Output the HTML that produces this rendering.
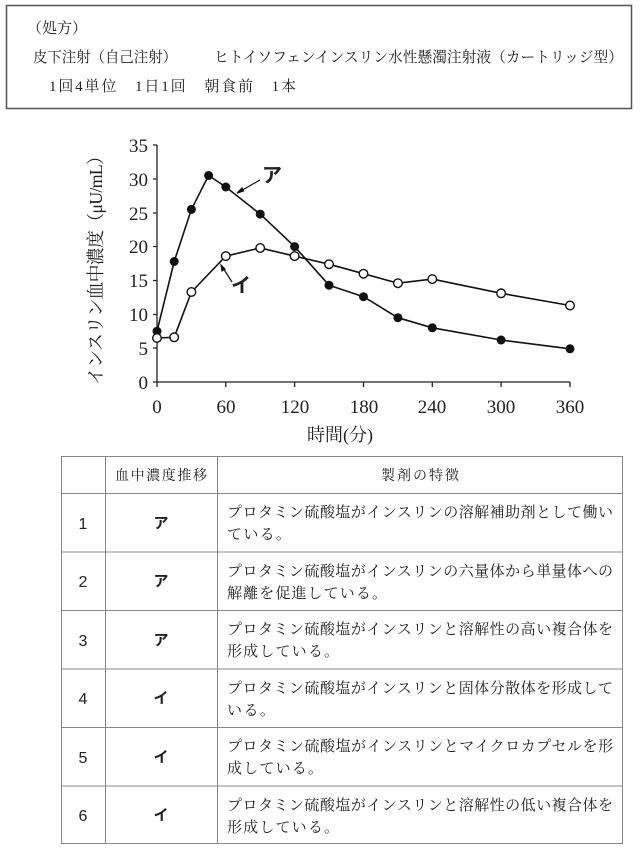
<!DOCTYPE html>
<html><head><meta charset="utf-8"><style>
body{margin:0;background:#fff;width:642px;height:850px;overflow:hidden}
svg{display:block}
text{font-family:"Liberation Serif","Noto Serif CJK SC","Noto Sans CJK JP",serif;fill:#222}
text.s,.s text{font-family:"Liberation Sans","Noto Sans CJK JP",sans-serif}
</style></head><body>
<svg width="642" height="850" viewBox="0 0 642 850">
<rect x="6.5" y="5.5" width="625" height="103" fill="none" stroke="#555" stroke-width="1.5"/>
<text x="27" y="33" font-size="15">（処方）</text>
<text x="33" y="62" font-size="15" textLength="144" lengthAdjust="spacingAndGlyphs">皮下注射（自己注射）</text>
<text x="214" y="62" font-size="15" textLength="409" lengthAdjust="spacingAndGlyphs">ヒトイソフェンインスリン水性懸濁注射液（カートリッジ型）</text>
<text x="49" y="91" font-size="15" textLength="247">1回4単位　1日1回　朝食前　1本</text>

<g stroke="#222" stroke-width="1.3" fill="none">
<line x1="157" y1="145" x2="157" y2="382"/>
<line x1="157" y1="382" x2="570" y2="382"/>
<path d="M153 145H157M153 179H157M153 213H157M153 246.5H157M153 280.5H157M153 314.5H157M153 348H157M153 382H157"/>
<path d="M157 382V387M225.8 382V387M294.6 382V387M363.5 382V387M432.3 382V387M501.1 382V387M570 382V387"/>
</g>
<g font-size="19" text-anchor="end">
<text x="148" y="152">35</text><text x="148" y="186">30</text><text x="148" y="220">25</text><text x="148" y="253">20</text><text x="148" y="287">15</text><text x="148" y="321">10</text><text x="148" y="355">5</text><text x="148" y="389">0</text>
</g>
<g font-size="19" text-anchor="middle">
<text x="157" y="413">0</text><text x="226" y="413">60</text><text x="295" y="413">120</text><text x="364" y="413">180</text><text x="432" y="413">240</text><text x="501" y="413">300</text><text x="570" y="413">360</text>
</g>
<text x="340" y="441" font-size="18" text-anchor="middle">時間(分)</text>
<text transform="translate(102,266) rotate(-90)" font-size="18" text-anchor="middle" textLength="238">インスリン血中濃度（μU/mL）</text>

<polyline fill="none" stroke="#111" stroke-width="1.6" points="157,331.2 174.2,261.5 191.4,209.4 208.6,175.5 225.8,187 260.2,214.1 294.6,246.6 329,285.2 363.5,296.7 397.9,317.7 432.3,327.8 501.1,340 570,348.8"/>
<polyline fill="none" stroke="#111" stroke-width="1.6" points="157,338 174.2,337.3 191.4,292 225.8,256.1 260.2,248 294.6,256.1 329,264.2 363.5,273.7 397.9,283.2 432.3,279.1 501.1,293.3 570,305.5"/>
<g fill="#111">
<circle cx="157" cy="331.2" r="4.5"/><circle cx="174.2" cy="261.5" r="4.5"/><circle cx="191.4" cy="209.4" r="4.5"/><circle cx="208.6" cy="175.5" r="4.5"/><circle cx="225.8" cy="187" r="4.5"/><circle cx="260.2" cy="214.1" r="4.5"/><circle cx="294.6" cy="246.6" r="4.5"/><circle cx="329" cy="285.2" r="4.5"/><circle cx="363.5" cy="296.7" r="4.5"/><circle cx="397.9" cy="317.7" r="4.5"/><circle cx="432.3" cy="327.8" r="4.5"/><circle cx="501.1" cy="340" r="4.5"/><circle cx="570" cy="348.8" r="4.5"/>
</g>
<g fill="#fff" stroke="#111" stroke-width="1.4">
<circle cx="157" cy="338" r="4.3"/><circle cx="174.2" cy="337.3" r="4.3"/><circle cx="191.4" cy="292" r="4.3"/><circle cx="225.8" cy="256.1" r="4.3"/><circle cx="260.2" cy="248" r="4.3"/><circle cx="294.6" cy="256.1" r="4.3"/><circle cx="329" cy="264.2" r="4.3"/><circle cx="363.5" cy="273.7" r="4.3"/><circle cx="397.9" cy="283.2" r="4.3"/><circle cx="432.3" cy="279.1" r="4.3"/><circle cx="501.1" cy="293.3" r="4.3"/><circle cx="570" cy="305.5" r="4.3"/>
</g>
<g stroke="#111" stroke-width="1.2" fill="#111">
<line x1="260" y1="180" x2="239" y2="192"/><path d="M237 193l5-5 1.5 3z"/>
<line x1="232" y1="282" x2="223" y2="268"/><path d="M221 265l1 6 3-2z"/>
</g>
<text x="262" y="182" font-size="20" class="s" font-weight="bold">ア</text>
<text x="231" y="292" font-size="20" class="s" font-weight="bold">イ</text>

<g stroke="#888" stroke-width="1" fill="none">
<rect x="61.5" y="456.5" width="561" height="387"/>
<line x1="105.5" y1="456" x2="105.5" y2="844"/>
<line x1="217.5" y1="456" x2="217.5" y2="844"/>
<path d="M61 493.5H622M61 552H622M61 610.5H622M61 669H622M61 727.5H622M61 786H622"/>
</g>
<g font-size="14">
<text x="161" y="480" text-anchor="middle" textLength="92">血中濃度推移</text>
<text x="420" y="480" text-anchor="middle" textLength="78">製剤の特徴</text>
</g>
<g font-size="16" text-anchor="middle" class="s">
<text x="83" y="529">1</text><text x="83" y="587">2</text><text x="83" y="646">3</text><text x="83" y="704">4</text><text x="83" y="763">5</text><text x="83" y="821">6</text>
</g>
<g font-size="15" text-anchor="middle" class="s" font-weight="bold">
<text x="161" y="528">ア</text><text x="161" y="586">ア</text><text x="161" y="645">ア</text><text x="161" y="703">イ</text><text x="161" y="762">イ</text><text x="161" y="820">イ</text>
</g>
<g font-size="15">
<text x="227" y="517" textLength="386">プロタミン硫酸塩がインスリンの溶解補助剤として働い</text><text x="227" y="539" textLength="64">ている。</text>
<text x="227" y="576" textLength="386">プロタミン硫酸塩がインスリンの六量体から単量体への</text><text x="227" y="598" textLength="160">解離を促進している。</text>
<text x="227" y="634" textLength="386">プロタミン硫酸塩がインスリンと溶解性の高い複合体を</text><text x="227" y="656" textLength="112">形成している。</text>
<text x="227" y="693" textLength="386">プロタミン硫酸塩がインスリンと固体分散体を形成して</text><text x="227" y="715" textLength="48">いる。</text>
<text x="227" y="751" textLength="386">プロタミン硫酸塩がインスリンとマイクロカプセルを形</text><text x="227" y="773" textLength="96">成している。</text>
<text x="227" y="810" textLength="386">プロタミン硫酸塩がインスリンと溶解性の低い複合体を</text><text x="227" y="832" textLength="112">形成している。</text>
</g>
</svg>
</body></html>
